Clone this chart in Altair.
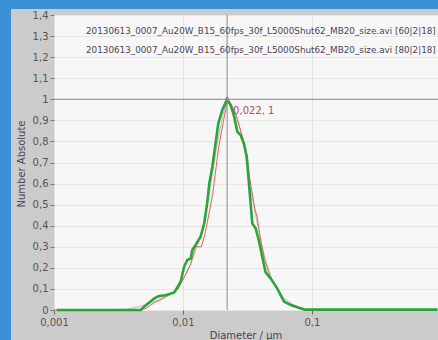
import altair as alt
import pandas as pd

# ---- data ----
green_d = [0.00105, 0.0047, 0.0051, 0.0060, 0.0065, 0.0073, 0.0085, 0.0088, 0.0096, 0.0102,
           0.0108, 0.0115, 0.0118, 0.0125, 0.0137, 0.0146, 0.0154, 0.0160, 0.0169, 0.0179,
           0.0188, 0.0202, 0.0220, 0.0234, 0.0248, 0.0264, 0.0280, 0.0297, 0.0312, 0.0325,
           0.0345, 0.0366, 0.0388, 0.0412, 0.0437, 0.0478, 0.0538, 0.0607, 0.0684, 0.0817,
           0.0880, 0.94]
green_n = [0.0, 0.0, 0.02, 0.055, 0.066, 0.07, 0.082, 0.095, 0.134, 0.205,
           0.237, 0.245, 0.285, 0.308, 0.348, 0.41, 0.506, 0.60, 0.68, 0.79,
           0.886, 0.95, 1.0, 0.973, 0.925, 0.846, 0.83, 0.79, 0.728, 0.60,
           0.41, 0.388, 0.33, 0.253, 0.18, 0.15, 0.103, 0.04, 0.024, 0.008,
           0.002, 0.002]

red_d = [0.001, 0.0047, 0.0052, 0.0060, 0.0068, 0.0075, 0.0085, 0.0088, 0.0092, 0.0095,
         0.0105, 0.0115, 0.0120, 0.0125, 0.0139, 0.0148, 0.0155, 0.0170, 0.0190, 0.0214,
         0.0220, 0.0235, 0.0260, 0.0293, 0.0315, 0.0330, 0.0361, 0.0377, 0.0400, 0.0430,
         0.0470, 0.0530, 0.0600, 0.0680, 0.0800, 0.0900, 0.94]
red_n = [0.0, 0.0, 0.01, 0.035, 0.05, 0.065, 0.085, 0.10, 0.10, 0.12,
         0.17, 0.22, 0.26, 0.30, 0.30, 0.36, 0.42, 0.55, 0.78, 0.95,
         1.0, 0.98, 0.92, 0.81, 0.73, 0.62, 0.48, 0.44, 0.33, 0.24,
         0.165, 0.11, 0.05, 0.025, 0.006, 0.0, 0.0]

grey_d = [0.001, 0.0036, 0.0045, 0.0055, 0.0065, 0.0075, 0.0085, 0.0095, 0.011, 0.012,
          0.013, 0.014, 0.016, 0.018, 0.020, 0.022, 0.025, 0.028, 0.031, 0.034,
          0.038, 0.043, 0.050, 0.060, 0.070, 0.080, 0.09, 0.94]
grey_n = [0.0, 0.003, 0.015, 0.03, 0.05, 0.065, 0.085, 0.12, 0.19, 0.25,
          0.31, 0.36, 0.55, 0.75, 0.9, 1.0, 0.95, 0.85, 0.72, 0.55,
          0.4, 0.25, 0.13, 0.06, 0.03, 0.01, 0.0, 0.0]

legend_labels = [
    "20130613_0007_Au20W_B15_60fps_30f_L5000Shut62_MB20_size.avi [60|2|18]",
    "20130613_0007_Au20W_B15_60fps_30f_L5000Shut62_MB20_size.avi [80|2|18]",
]
cursor_d = [0.022]
cursor_n = [1.0]
cursor_label = ["0,022, 1"]

x_ticks = [0.001, 0.01, 0.1]
y_ticks = [0, 0.1, 0.2, 0.3, 0.4, 0.5, 0.6, 0.7, 0.8, 0.9, 1, 1.1, 1.2, 1.3, 1.4]
x_title = "Diameter / µm"
y_title = "Number Absolute"

# ---- chart ----
W, H = 384, 295
FONT = "DejaVu Sans"

xscale = alt.Scale(type="log", domain=[0.001, 0.95], nice=False)
yscale = alt.Scale(domain=[0, 1.4], nice=False, zero=False)

xaxis = alt.Axis(values=x_ticks, title=None, grid=True, gridColor="#e2e2e2",
                 domain=False, tickColor="#666666", tickSize=4, labelColor="#555555",
                 labelFont=FONT, labelFontSize=10, labelPadding=3,
                 labelExpr="replace(format(datum.value, '.3~f'), '.', ',')",
                 labelFlush=False, labelOverlap=False)
yaxis = alt.Axis(values=y_ticks, title=None, grid=True, gridColor="#e6e6e6",
                 domain=False, tickColor="#777777", tickSize=4, labelColor="#555555",
                 labelFont=FONT, labelFontSize=10, labelPadding=2,
                 labelExpr="replace(format(datum.value, '.2~f'), '.', ',')",
                 labelOverlap=False)

X = alt.X("d:Q", scale=xscale, axis=xaxis)
Y = alt.Y("n:Q", scale=yscale, axis=yaxis)

df_green = pd.DataFrame({"d": green_d, "n": green_n})
df_red = pd.DataFrame({"d": red_d, "n": red_n})
df_grey = pd.DataFrame({"d": grey_d, "n": grey_n})
df_cur = pd.DataFrame({"d": cursor_d, "n": cursor_n, "t": cursor_label})
df_one = pd.DataFrame({"a": [0]})

grey_line = alt.Chart(df_grey).mark_line(color="#bdbdbd", strokeWidth=1).encode(x=X, y=Y)
red_line = alt.Chart(df_red).mark_line(color="#e8605a", strokeWidth=1).encode(x=X, y=Y)
green_line = alt.Chart(df_green).mark_line(color="#2aa53a", strokeWidth=2.6).encode(x=X, y=Y)

vrule = alt.Chart(df_cur).mark_rule(color="#8a8a8a", strokeWidth=1).encode(x=X)
hrule = alt.Chart(df_cur).mark_rule(color="#8a8a8a", strokeWidth=1).encode(y=Y)
marker = alt.Chart(df_cur).mark_square(color="#8a8a8a", size=12, opacity=1).encode(x=X, y=Y)
cur_text = alt.Chart(df_cur).mark_text(align="left", baseline="middle", dx=6, dy=12,
                                       color="#b0505a", font=FONT, fontSize=10).encode(
    x=X, y=Y, text="t:N")

leg1 = alt.Chart(df_one).mark_text(align="left", baseline="middle", color="#4d4452",
                                   font=FONT, fontSize=8.8, text=legend_labels[0]).encode(
    x=alt.value(32), y=alt.value(16))
leg2 = alt.Chart(df_one).mark_text(align="left", baseline="middle", color="#4d4452",
                                   font=FONT, fontSize=8.8, text=legend_labels[1]).encode(
    x=alt.value(32), y=alt.value(35))

xtitle = alt.Chart(df_one).mark_text(align="center", baseline="middle", color="#4d4452",
                                     font=FONT, fontSize=10, text=x_title).encode(
    x=alt.value(192), y=alt.value(321))
ytitle = alt.Chart(df_one).mark_text(align="center", baseline="middle", color="#4d4452",
                                     font=FONT, fontSize=10, angle=270, text=y_title).encode(
    x=alt.value(-32), y=alt.value(149))

blue_left = alt.Chart(df_one).mark_rect(color="#3a8fd6").encode(
    x=alt.value(-54), x2=alt.value(-43), y=alt.value(-15), y2=alt.value(330))
blue_top = alt.Chart(df_one).mark_rect(color="#3a8fd6").encode(
    x=alt.value(-54), x2=alt.value(W), y=alt.value(-15), y2=alt.value(-6))

chart = alt.layer(
    blue_left, blue_top,
    grey_line, red_line, vrule, hrule, green_line, marker, cur_text,
    leg1, leg2, xtitle, ytitle,
).properties(
    width=W, height=H,
    padding={"left": 54, "top": 15, "right": 0, "bottom": 30},
    autosize=alt.AutoSizeParams(type="none"),
    background="#cbcbcb",
).configure_view(fill="#f7f7f7", stroke=None)

chart.save("out.html", embed_options={"renderer": "svg", "actions": False})
